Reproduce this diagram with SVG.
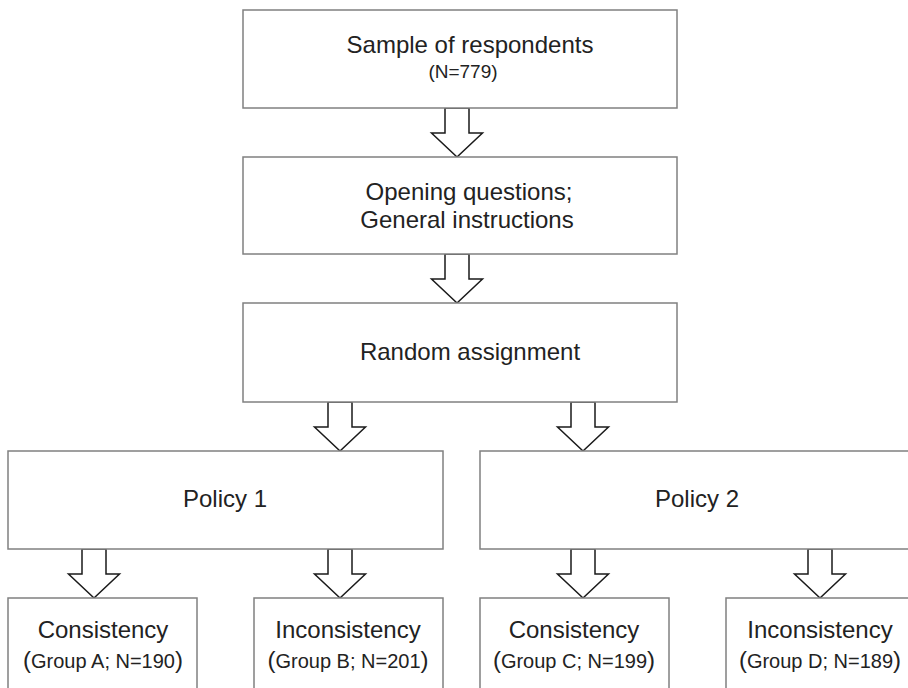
<svg xmlns="http://www.w3.org/2000/svg" width="908" height="688" viewBox="0 0 908 688">
<style>
.box{fill:#fff;stroke:#808080;stroke-width:1.5}
.arr{fill:#fff;stroke:#1a1a1a;stroke-width:1.5;stroke-linejoin:miter}
text{font-family:"Liberation Sans",Arial,sans-serif;fill:#222;text-anchor:middle}
.t{font-size:24px}
.s{font-size:19px}
.g{font-size:20px}
.p{font-size:24px}
</style>
<defs>
<path id="a" d="M-12,0 H12 V25 H25.5 L0,49 L-25.5,25 H-12 Z"/>
</defs>
<rect width="908" height="688" fill="#fff"/>
<g id="connectors">
<use href="#a" class="arr" x="457" y="108"/>
<use href="#a" class="arr" x="457" y="254"/>
<use href="#a" class="arr" x="340" y="402"/>
<use href="#a" class="arr" x="583" y="402"/>
<use href="#a" class="arr" x="94" y="549"/>
<use href="#a" class="arr" x="340" y="549"/>
<use href="#a" class="arr" x="583" y="549"/>
<use href="#a" class="arr" x="820" y="549"/>
</g>
<g id="sample">
<rect class="box" x="243" y="10" width="434" height="98"/>
<text class="t" x="470" y="53">Sample of respondents</text>
<text class="s" x="463" y="78">(N=779)</text>
</g>
<g id="opening">
<rect class="box" x="243" y="157" width="434" height="97"/>
<text class="t" x="469" y="200">Opening questions;</text>
<text class="t" x="467" y="228">General instructions</text>
</g>
<g id="random">
<rect class="box" x="243" y="303" width="434" height="99"/>
<text class="t" x="470" y="360">Random assignment</text>
</g>
<g id="policy1">
<rect class="box" x="8" y="451" width="435" height="98"/>
<text class="t" x="225" y="507">Policy 1</text>
</g>
<g id="policy2">
<rect class="box" x="480" y="451" width="440" height="98"/>
<text class="t" x="697" y="507">Policy 2</text>
</g>
<g id="groupA">
<rect class="box" x="8" y="598" width="189" height="100"/>
<text class="t" x="103" y="638">Consistency</text>
<text x="103" y="668"><tspan class="p">(</tspan><tspan class="g">Group A; N=190</tspan><tspan class="p">)</tspan></text>
</g>
<g id="groupB">
<rect class="box" x="254" y="598" width="189" height="100"/>
<text class="t" x="348" y="638">Inconsistency</text>
<text x="348" y="668"><tspan class="p">(</tspan><tspan class="g">Group B; N=201</tspan><tspan class="p">)</tspan></text>
</g>
<g id="groupC">
<rect class="box" x="480" y="598" width="189" height="100"/>
<text class="t" x="574" y="638">Consistency</text>
<text x="574" y="668"><tspan class="p">(</tspan><tspan class="g">Group C; N=199</tspan><tspan class="p">)</tspan></text>
</g>
<g id="groupD">
<rect class="box" x="726" y="598" width="200" height="100"/>
<text class="t" x="820" y="638">Inconsistency</text>
<text x="820" y="668"><tspan class="p">(</tspan><tspan class="g">Group D; N=189</tspan><tspan class="p">)</tspan></text>
</g>
</svg>
